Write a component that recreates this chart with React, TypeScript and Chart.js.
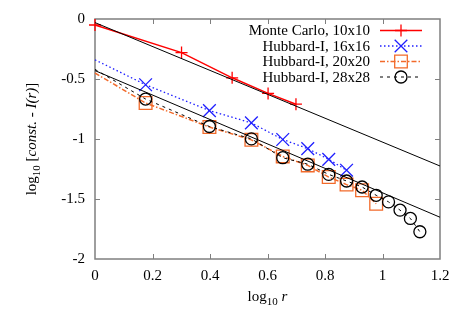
import React, { useEffect, useRef } from 'react';
import { Chart, registerables } from 'chart.js';

Chart.register(...registerables);

const W = 463;
const H = 324;
const FONT = '"Liberation Serif", "Times New Roman", serif';

// Data (log10 r, log10[const - I(r)])
const rMonteCarlo = [0, 0.301, 0.477, 0.602, 0.699];
const monteCarlo10 = [-0.05, -0.28, -0.49, -0.62, -0.71];

const rHubbard = [0, 0.176, 0.398, 0.544, 0.653, 0.74, 0.813, 0.875, 0.929, 0.978, 1.021, 1.061, 1.097, 1.13];
const hubbard16 = [-0.34, -0.548, -0.763, -0.866, -1.004, -1.08, -1.17, -1.26];
const hubbard20 = [-0.45, -0.7, -0.9, -1.007, -1.145, -1.22, -1.317, -1.38, -1.427, -1.54];
const hubbard28 = [-0.42, -0.667, -0.896, -0.999, -1.156, -1.21, -1.295, -1.35, -1.4, -1.469, -1.524, -1.593, -1.662, -1.773];

const refLineX = [0, 1.2];
const refLineUpper = [-0.03, -1.225];
const refLineLower = [-0.43, -1.652];

const legendLabels = ['Monte Carlo, 10x10', 'Hubbard-I, 16x16', 'Hubbard-I, 20x20', 'Hubbard-I, 28x28'];

const RED = '#ff0000';
const BLUE = '#1f1fff';
const ORANGE = '#f26a2a';
const BLACK = '#000000';
const FRAME = '#7f7f7f';

const pts = (xs: number[], ys: number[]) => ys.map((y, i) => ({ x: xs[i], y }));
const hideFirst = (ys: number[], r: number) => ys.map((_, i) => (i === 0 ? 0 : r));

type Seg = { t: string; style?: 'i' | 'sub' };

function drawRich(ctx: CanvasRenderingContext2D, segs: Seg[], cx: number, cy: number, size: number) {
  const fontFor = (s: Seg) =>
    s.style === 'i' ? `italic ${size}px ${FONT}` : s.style === 'sub' ? `${Math.round(size * 0.72)}px ${FONT}` : `${size}px ${FONT}`;
  let total = 0;
  const widths = segs.map((s) => {
    ctx.font = fontFor(s);
    const w = ctx.measureText(s.t).width;
    total += w;
    return w;
  });
  let x = cx - total / 2;
  ctx.textAlign = 'left';
  ctx.textBaseline = 'alphabetic';
  segs.forEach((s, i) => {
    ctx.font = fontFor(s);
    ctx.fillText(s.t, x, cy + size * 0.33 + (s.style === 'sub' ? size * 0.3 : 0));
    x += widths[i];
  });
}

function drawMarker(ctx: CanvasRenderingContext2D, kind: string, x: number, y: number, color: string) {
  ctx.save();
  ctx.setLineDash([]);
  ctx.strokeStyle = color;
  ctx.lineWidth = 1.3;
  ctx.beginPath();
  if (kind === 'cross') {
    ctx.moveTo(x - 6, y);
    ctx.lineTo(x + 6, y);
    ctx.moveTo(x, y - 6);
    ctx.lineTo(x, y + 6);
  } else if (kind === 'crossRot') {
    ctx.moveTo(x - 6.3, y - 6.3);
    ctx.lineTo(x + 6.3, y + 6.3);
    ctx.moveTo(x - 6.3, y + 6.3);
    ctx.lineTo(x + 6.3, y - 6.3);
  } else if (kind === 'rect') {
    ctx.rect(x - 6.3, y - 6.3, 12.6, 12.6);
  } else {
    ctx.arc(x, y, 6, 0, Math.PI * 2);
  }
  ctx.stroke();
  ctx.restore();
}

const framePlugin = {
  id: 'gnuFrame',
  beforeDatasetsDraw(chart: any) {
    const { ctx, chartArea: a, scales } = chart;
    ctx.save();
    ctx.strokeStyle = FRAME;
    ctx.lineWidth = 1.5;
    ctx.strokeRect(a.left, a.top, a.right - a.left, a.bottom - a.top);
    ctx.lineWidth = 1;
    ctx.beginPath();
    const tl = 5;
    [0.2, 0.4, 0.6, 0.8, 1].forEach((v) => {
      const px = Math.round(scales.x.getPixelForValue(v)) + 0.5;
      ctx.moveTo(px, a.bottom);
      ctx.lineTo(px, a.bottom - tl);
      ctx.moveTo(px, a.top);
      ctx.lineTo(px, a.top + tl);
    });
    [-0.5, -1, -1.5].forEach((v) => {
      const py = Math.round(scales.y.getPixelForValue(v)) + 0.5;
      ctx.moveTo(a.left, py);
      ctx.lineTo(a.left + tl, py);
      ctx.moveTo(a.right, py);
      ctx.lineTo(a.right - tl, py);
    });
    ctx.stroke();
    ctx.restore();
  },
  afterDraw(chart: any) {
    const { ctx, chartArea: a } = chart;
    ctx.save();
    ctx.fillStyle = '#000';
    // x title
    drawRich(ctx, [{ t: 'log' }, { t: '10', style: 'sub' }, { t: ' ' }, { t: 'r', style: 'i' }], (a.left + a.right) / 2, 296, 15);
    // y title
    ctx.save();
    ctx.translate(31, (a.top + a.bottom) / 2);
    ctx.rotate(-Math.PI / 2);
    drawRich(
      ctx,
      [
        { t: 'log' },
        { t: '10', style: 'sub' },
        { t: ' [' },
        { t: 'const.', style: 'i' },
        { t: ' - ' },
        { t: 'I(r)', style: 'i' },
        { t: ']' },
      ],
      0,
      0,
      15
    );
    ctx.restore();

    // legend
    const rows = [
      { color: RED, dash: [] as number[], marker: 'cross', lw: 1.5 },
      { color: BLUE, dash: [1.5, 2.5], marker: 'crossRot', lw: 1.3 },
      { color: ORANGE, dash: [5, 2, 1.5, 2], marker: 'rect', lw: 1.5 },
      { color: BLACK, dash: [3, 4], marker: 'circle', lw: 1 },
    ];
    const ys = [30.5, 46, 61.5, 77];
    rows.forEach((r, i) => {
      const y = ys[i];
      ctx.font = `15px ${FONT}`;
      ctx.textAlign = 'right';
      ctx.textBaseline = 'middle';
      ctx.fillStyle = '#000';
      ctx.fillText(legendLabels[i], 370, y + 1);
      ctx.save();
      ctx.strokeStyle = r.color;
      ctx.lineWidth = r.lw;
      ctx.setLineDash(r.dash);
      ctx.beginPath();
      ctx.moveTo(380, y);
      ctx.lineTo(422, y);
      ctx.stroke();
      ctx.restore();
      drawMarker(ctx, r.marker, 401, y, r.color);
    });
    ctx.restore();
  },
};

export default function App() {
  const ref = useRef<HTMLCanvasElement | null>(null);

  useEffect(() => {
    if (!ref.current) return;
    const chart = new Chart(ref.current, {
      type: 'line',
      data: {
        datasets: [
          {
            label: 'ref1',
            data: pts(refLineX, refLineUpper),
            borderColor: BLACK,
            borderWidth: 1,
            pointRadius: 0,
            fill: false,
          },
          {
            label: 'ref2',
            data: pts(refLineX, refLineLower),
            borderColor: BLACK,
            borderWidth: 1,
            pointRadius: 0,
            fill: false,
          },
          {
            label: legendLabels[3],
            data: pts(rHubbard, hubbard28),
            borderColor: BLACK,
            borderWidth: 1,
            borderDash: [3, 4],
            pointStyle: 'circle',
            pointRadius: hideFirst(hubbard28, 6),
            pointBorderColor: BLACK,
            pointBackgroundColor: 'rgba(0,0,0,0)',
            pointBorderWidth: 1.3,
            fill: false,
            clip: false as any,
          },
          {
            label: legendLabels[2],
            data: pts(rHubbard, hubbard20),
            borderColor: ORANGE,
            borderWidth: 1.5,
            borderDash: [5, 2, 1.5, 2],
            pointStyle: 'rect',
            pointRadius: hideFirst(hubbard20, 9),
            pointBorderColor: ORANGE,
            pointBackgroundColor: 'rgba(0,0,0,0)',
            pointBorderWidth: 1.3,
            fill: false,
            clip: false as any,
          },
          {
            label: legendLabels[1],
            data: pts(rHubbard, hubbard16),
            borderColor: BLUE,
            borderWidth: 1.3,
            borderDash: [1.5, 2.5],
            pointStyle: 'crossRot',
            pointRadius: hideFirst(hubbard16, 9),
            pointBorderColor: BLUE,
            pointBorderWidth: 1.3,
            fill: false,
            clip: false as any,
          },
          {
            label: legendLabels[0],
            data: pts(rMonteCarlo, monteCarlo10),
            borderColor: RED,
            borderWidth: 1.5,
            pointStyle: 'cross',
            pointRadius: 6,
            pointBorderColor: RED,
            pointBorderWidth: 1.3,
            fill: false,
            clip: false as any,
          },
        ],
      },
      options: {
        responsive: false,
        animation: false,
        devicePixelRatio: 1,
        layout: { padding: { top: 18, right: 23, left: 0, bottom: 0 } },
        plugins: { legend: { display: false }, tooltip: { enabled: false } },
        elements: { line: { tension: 0 } },
        scales: {
          x: {
            type: 'linear',
            min: 0,
            max: 1.2,
            grid: { display: false, drawTicks: false },
            border: { display: false },
            ticks: {
              stepSize: 0.2,
              padding: 8,
              color: '#000',
              font: { family: FONT, size: 15 },
              maxRotation: 0,
              callback: (v: any) => String(Number(Number(v).toFixed(1))),
            },
            afterFit: (s: any) => {
              s.height = 65;
            },
          },
          y: {
            type: 'linear',
            min: -2,
            max: 0,
            grid: { display: false, drawTicks: false },
            border: { display: false },
            ticks: {
              stepSize: 0.5,
              padding: 10,
              color: '#000',
              font: { family: FONT, size: 15 },
              callback: (v: any) => String(Number(Number(v).toFixed(1))),
            },
            afterFit: (s: any) => {
              s.width = 95;
            },
          },
        },
      },
      plugins: [framePlugin],
    } as any);
    return () => chart.destroy();
  }, []);

  return (
    <div style={{ position: 'fixed', left: 0, top: 0, width: W, height: H, background: '#fff' }}>
      <canvas ref={ref} width={W} height={H} style={{ display: 'block', width: W, height: H }} />
    </div>
  );
}
